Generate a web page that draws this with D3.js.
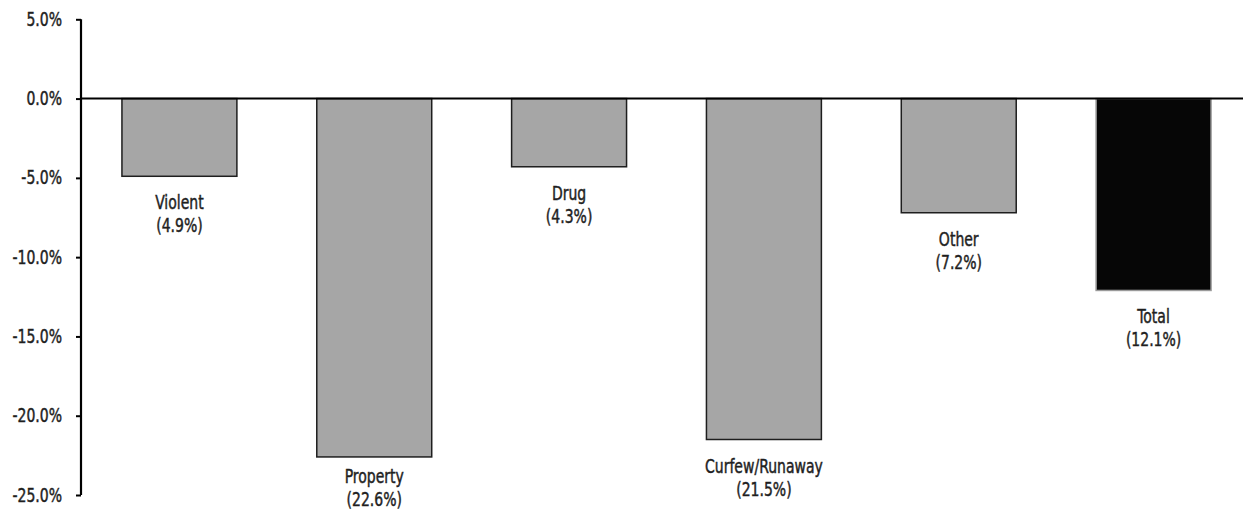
<!DOCTYPE html>
<html>
<head>
<meta charset="utf-8">
<script src="https://cdn.jsdelivr.net/npm/d3@7"></script>
<style>
  html, body { margin: 0; padding: 0; background: #fff; }
  svg { display: block; }
  text { font-family: "DejaVu Sans", sans-serif; font-stretch: condensed; fill: #1f1f1f;
         stroke: #1f1f1f; stroke-width: 0.45px; }
</style>
</head>
<body>
<svg id="chart" width="1243" height="511"></svg>
<script>
// Percent change in cases by offense category
const categories = ["Violent", "Property", "Drug", "Curfew/Runaway", "Other", "Total"];
const changes = [-4.9, -22.6, -4.3, -21.5, -7.2, -12.1];
const valueLabels = ["(4.9%)", "(22.6%)", "(4.3%)", "(21.5%)", "(7.2%)", "(12.1%)"];
const yTicks = [5, 0, -5, -10, -15, -20, -25];

const W = 1243, H = 511;
const fontSize = 19;
const squeeze = 0.82; // narrow the glyphs horizontally
const svg = d3.select("#chart");

const y = d3.scaleLinear().domain([-25, 5]).range([495, 19.3]);
const x = d3.scaleBand().domain(categories).range([82, 1251])
  .paddingInner(0.41).paddingOuter(0.205);

const axisX = 81;

// bars
svg.append("g").selectAll("rect")
  .data(categories)
  .join("rect")
  .attr("x", d => x(d))
  .attr("width", x.bandwidth())
  .attr("y", y(0))
  .attr("height", (d, i) => y(changes[i]) - y(0))
  .attr("fill", d => d === "Total" ? "#060606" : "#a6a6a6")
  .attr("stroke", d => d === "Total" ? "#9a9a9a" : "#1e1e1e")
  .attr("stroke-width", 1.5);

// zero baseline
svg.append("line")
  .attr("x1", axisX).attr("x2", W)
  .attr("y1", y(0)).attr("y2", y(0))
  .attr("stroke", "#000").attr("stroke-width", 2);

// y axis
const yAxis = d3.axisLeft(y)
  .tickValues(yTicks)
  .tickSize(5)
  .tickPadding(14)
  .tickFormat(d => d.toFixed(1) + "%");

const gy = svg.append("g").attr("transform", `translate(${axisX},0)`).call(yAxis);
gy.select(".domain").attr("stroke", "#000").attr("stroke-width", 2.2)
  .attr("d", `M0,${y(5)}V${y(-25)}`);
gy.selectAll(".tick line").attr("stroke", "#000").attr("stroke-width", 2);
gy.selectAll(".tick text")
  .attr("font-size", fontSize)
  .attr("font-family", null)
  .attr("x", -19 / squeeze)
  .attr("transform", `scale(${squeeze},1)`)
  .style("fill", "#1f1f1f");

// category labels under each bar
const cx = d => x(d) + x.bandwidth() / 2;
const lbl = svg.append("g").selectAll("text")
  .data(categories)
  .join("text")
  .attr("text-anchor", "middle")
  .attr("font-size", fontSize)
  .attr("transform", (d, i) =>
    `translate(${cx(d)},${Math.min(y(changes[i]) + 33, H - 28)}) scale(${squeeze},1)`);

lbl.append("tspan").attr("x", 0).text(d => d);
lbl.append("tspan")
  .attr("x", 0)
  .attr("dy", 23)
  .text((d, i) => valueLabels[i]);
</script>
</body>
</html>
